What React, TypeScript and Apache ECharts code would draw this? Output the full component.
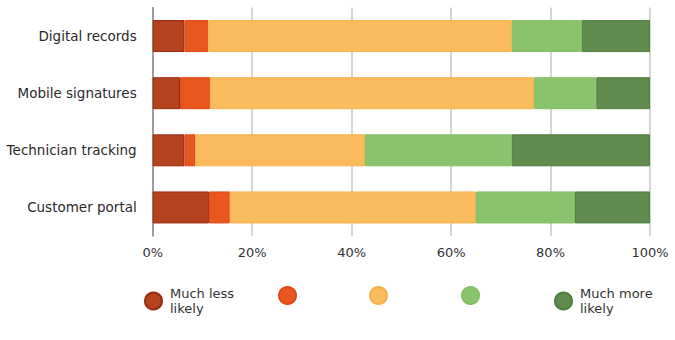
import React, { useEffect, useRef } from "react";
import * as echarts from "echarts";

const categories = ["Digital records", "Mobile signatures", "Technician tracking", "Customer portal"];
const seriesNames = ["Much less likely", "Less likely", "About the same", "More likely", "Much more likely"];
const muchLess = [6.4, 5.5, 6.4, 11.3];
const less = [4.8, 6.0, 2.2, 4.2];
const same = [61.0, 65.2, 34.1, 49.5];
const more = [14.1, 12.5, 29.5, 19.9];
const muchMore = [13.7, 10.8, 27.8, 15.1];
const xTicks = [0, 20, 40, 60, 80, 100];
const colors = ["#B3431F", "#E8581E", "#F9BB5C", "#89C36D", "#618B4F"];
const borders = ["#9A2A10", "#E2461A", "#F5B04C", "#84BE66", "#4E7F3C"];
const legendLabels = ["Much less\nlikely", "", "", "", "Much more\nlikely"];
const legendLefts = [144, 278, 369, 461, 554];

export default function App() {
  const ref = useRef<HTMLDivElement>(null);
  useEffect(() => {
    if (!ref.current) return;
    const chart = echarts.init(ref.current, null, { renderer: "svg" });
    const values = [muchLess, less, same, more, muchMore];
    const font = "DejaVu Sans, Verdana, sans-serif";
    chart.setOption({
      animation: false,
      grid: { left: 152.7, right: 25, top: 7.5, bottom: 104 },
      xAxis: {
        type: "value",
        min: xTicks[0],
        max: xTicks[xTicks.length - 1],
        interval: 20,
        axisLine: { show: false },
        axisTick: { show: false },
        splitLine: { lineStyle: { color: "#c8c8c8", width: 1.5 } },
        axisLabel: { formatter: "{value}%", color: "#333", fontSize: 13, fontFamily: font, margin: 10 },
      },
      yAxis: {
        type: "category",
        data: categories,
        inverse: true,
        axisLine: { show: true, lineStyle: { color: "#888", width: 1.5 } },
        axisTick: { show: false },
        axisLabel: { color: "#2a2a2a", fontSize: 13.5, fontFamily: font, margin: 16 },
      },
      legend: seriesNames.map((n, i) => ({
        data: [n],
        left: legendLefts[i],
        top: 286,
        icon: "circle",
        itemWidth: 17,
        itemHeight: 17,
        itemGap: 0,
        formatter: () => legendLabels[i],
        textStyle: { color: "#333", fontSize: 13, fontFamily: font, lineHeight: 15, padding: [0, 0, 0, 3] },
        selectedMode: false,
        padding: 0,
      })),
      series: seriesNames.map((n, i) => ({
        name: n,
        type: "bar",
        stack: "total",
        barWidth: 32,
        data: values[i],
        itemStyle: { color: colors[i], borderColor: borders[i], borderWidth: 1 },
      })),
    });
    return () => chart.dispose();
  }, []);
  return <div ref={ref} style={{ width: 675, height: 340, position: "absolute", left: 0, top: 0 }} />;
}
